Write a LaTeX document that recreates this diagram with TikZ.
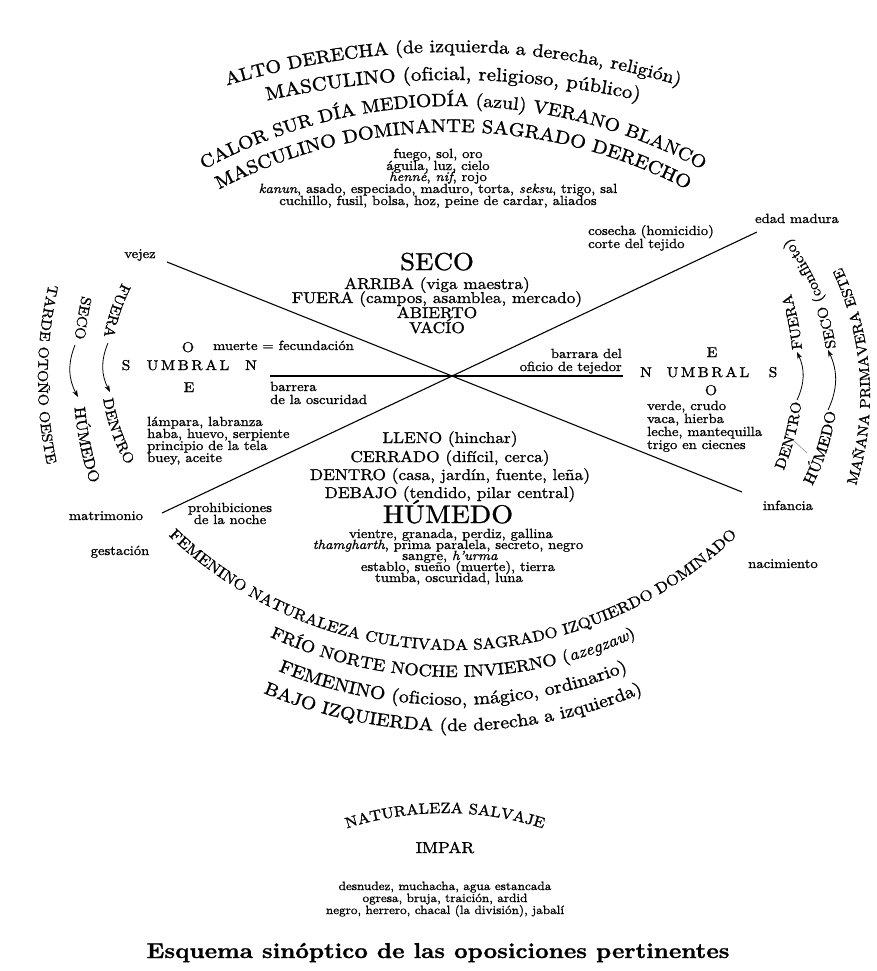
\documentclass[tikz,border=0pt]{standalone}
\usepackage{fontspec}
\setmainfont{lmroman10-regular.otf}[FakeStretch=1.1,FakeBold=1.1,ItalicFont=lmroman10-italic.otf,BoldFont=lmroman10-bold.otf,BoldItalicFont=lmroman10-bolditalic.otf]
\usetikzlibrary{decorations.text,arrows.meta}
\newcommand\myfs[1]{\fontsize{#1}{#1}\selectfont}
\newcommand\umbral{U\kern2.5pt M\kern2.5pt B\kern2.5pt R\kern2.5pt A\kern2.5pt L}
\tikzset{
  lbl/.style={inner sep=0pt, anchor=base},
  lbll/.style={inner sep=0pt, anchor=base west},
  lblr/.style={inner sep=0pt, anchor=base east},
  sm/.style={font=\myfs{13.3}},
  xs/.style={font=\myfs{12}},
  md/.style={font=\myfs{15.7}},
  ltr/.style={font=\myfs{14.2}},
  axisline/.style={line width=1.1pt},
  curvearrow/.style={-{Stealth[length=7pt,width=5pt]}, line width=0.8pt},
  arctext/.style={decorate, decoration={text along path, text align=center, text={#1}}}
}
\begin{document}
\begin{tikzpicture}[x=1pt,y=1pt]
\useasboundingbox (0,0) rectangle (877,-971);
\fill[white] (0,0) rectangle (877,-971);

% ---------- top arcs ----------
\path[arctext={|\myfs{18.1}|ALTO DERECHA (de izquierda a derecha, religión)}]
  (453,-832) ++(112:780) arc[start angle=112, end angle=68, radius=780];
\path[arctext={|\myfs{19.1}|MASCULINO (oficial, religioso, público)}]
  (453,-930) ++(108:850) arc[start angle=108, end angle=72, radius=850];
\path[arctext={|\myfs{18}|CALOR SUR DÍA MEDIODÍA (azul) VERANO BLANCO}]
  (453,-626) ++(130:520) arc[start angle=130, end angle=50, radius=520];
\path[arctext={|\myfs{18.5}|MASCULINO DOMINANTE SAGRADO DERECHO}]
  (453,-637) ++(130:505) arc[start angle=130, end angle=50, radius=505];

% ---------- top small block ----------
\node[lbl,sm] (f1) at (438,-158) {fuego, sol, oro};
\node[lbl,sm] (f2) at (438,-170) {águila, luz, cielo};
\node[lbl,sm] (f3) at (438,-181) {\textit{henné}, \textit{nif}, rojo};
\node[lbl,sm] (f4) at (438,-193) {\textit{kanun}, asado, especiado, maduro, torta, \textit{seksu}, trigo, sal};
\node[lbl,sm] (f5) at (438,-205) {cuchillo, fusil, bolsa, hoz, peine de cardar, aliados};

% ---------- axes ----------
\coordinate (hl) at (270,-376);
\coordinate (hr) at (623,-376);
\coordinate (d1a) at (167,-262);
\coordinate (d1b) at (742,-492);
\coordinate (d2a) at (162,-513);
\coordinate (d2b) at (757,-232);
\draw[axisline] (hl) -- (hr);
\draw[axisline] (d1a) -- (d1b);
\draw[axisline] (d2a) -- (d2b);

% ---------- centre top ----------
\node[lbl,font=\myfs{24.5}] (seco) at (437,-270) {SECO};
\node[lbl,md] (arriba) at (437,-289) {ARRIBA (viga maestra)};
\node[lbl,md] (fuera) at (437,-303) {FUERA (campos, asamblea, mercado)};
\node[lbl,md] (abierto) at (437,-318) {ABIERTO};
\node[lbl,md] (vacio) at (437,-333) {VACÍO};

% ---------- centre bottom ----------
\node[lbl,md] (lleno) at (450,-443) {LLENO (hinchar)};
\node[lbl,md] (cerrado) at (450,-462) {CERRADO (difícil, cerca)};
\node[lbl,md] (dentro) at (450,-480) {DENTRO (casa, jardín, fuente, leña)};
\node[lbl,md] (debajo) at (450,-498) {DEBAJO (tendido, pilar central)};
\node[lbl,font=\myfs{25.5}] (humedo) at (448,-523) {HÚMEDO};
\node[lbl,sm] (h1) at (451,-538) {vientre, granada, perdiz, gallina};
\node[lbl,sm] (h2) at (448,-549) {\textit{thamgharth}, prima paralela, secreto, negro};
\node[lbl,sm] (h3) at (450,-560) {sangre, \textit{h'urma}};
\node[lbl,sm] (h4) at (458,-571) {establo, sueño (muerte), tierra};
\node[lbl,sm] (h5) at (449,-582) {tumba, oscuridad, luna};

% ---------- left cluster ----------
\node[lbl,sm] (vejez) at (140,-258) {vejez};
\node[lbl,ltr] (lO) at (188,-352) {O};
\node[lbll,sm] (muerte) at (213,-350) {muerte = fecundación};
\node[lbl,ltr] (lS) at (126,-370) {S};
\node[lbl,ltr] (lU) at (188,-370) {\umbral};
\node[lbl,ltr] (lN) at (251,-370) {N};
\node[lbl,ltr] (lE) at (189,-392) {E};
\node[lbll,sm] (barr1) at (270,-391) {barrera};
\node[lbll,sm] (barr2) at (270,-404) {de la oscuridad};
\node[lbll,sm] (la1) at (147,-426) {lámpara, labranza};
\node[lbll,sm] (la2) at (147,-438) {haba, huevo, serpiente};
\node[lbll,sm] (la3) at (147,-450) {principio de la tela};
\node[lbll,sm] (la4) at (147,-462) {buey, aceite};
\node[lbl,sm] (matr) at (106,-520) {matrimonio};
\node[lbl,sm] (proh1) at (230,-512) {prohibiciones};
\node[lbl,sm] (proh2) at (230,-524) {de la noche};
\node[lbl,sm] (gest) at (120,-555) {gestación};

% ---------- right cluster ----------
\node[lbl,sm] (edad) at (797,-223) {edad madura};
\node[lbll,sm] (cos1) at (588,-235) {cosecha (homicidio)};
\node[lbll,sm] (cos2) at (588,-248) {corte del tejido};
\node[lblr,sm] (bar1) at (622,-358) {barrara del};
\node[lblr,sm] (bar2) at (622,-371) {oficio de tejedor};
\node[lbl,ltr] (rE) at (712,-357) {E};
\node[lbl,ltr] (rN) at (646,-377) {N};
\node[lbl,ltr] (rU) at (708,-377) {\umbral};
\node[lbl,ltr] (rS) at (773,-377) {S};
\node[lbl,ltr] (rO) at (711,-395) {O};
\node[lbll,sm] (ve1) at (647,-410) {verde, crudo};
\node[lbll,sm] (ve2) at (647,-423) {vaca, hierba};
\node[lbll,sm] (ve3) at (647,-436) {leche, mantequilla};
\node[lbll,sm] (ve4) at (647,-449) {trigo en ciecnes};
\node[lbl,sm] (inf) at (788,-510) {infancia};
\node[lbl,sm] (nac) at (783,-568) {nacimiento};

% ---------- left side arcs ----------
\path[arctext={|\myfs{14.3}|TARDE OTOÑO OESTE}]
  (453,-378) ++(139.5:415) arc[start angle=139.5, end angle=219.5, radius=415];
\path[arctext={|\myfs{14.5}|SECO}]
  (423,-375) ++(155.5:350) arc[start angle=155.5, end angle=185.5, radius=350];
\path[arctext={|\myfs{15.3}|HÚMEDO}]
  (423,-375) ++(176.7:350) arc[start angle=176.7, end angle=206.7, radius=350];
\path[arctext={|\myfs{14.5}|FUERA}]
  (291,-370) ++(136.3:190) arc[start angle=136.3, end angle=186.3, radius=190];
\path[arctext={|\myfs{14.5}|DENTRO}]
  (291,-370) ++(174.4:190) arc[start angle=174.4, end angle=224.4, radius=190];
\coordinate (lfa) at (108,-343);
\coordinate (lfb) at (110,-392);
\coordinate (lsa) at (75,-345);
\coordinate (lsb) at (78,-397);
\draw[curvearrow] (lfa) to[bend right=25] (lfb);
\draw[curvearrow] (lsa) to[bend right=25] (lsb);

% ---------- right side arcs ----------
\path[arctext={|\myfs{14.2}|MAÑANA PRIMAVERA ESTE}]
  (570,-395) ++(-26.2:300) arc[start angle=-26.2, end angle=33.8, radius=300];
\path[arctext={|\myfs{14.5}|SECO (conflicto)}]
  (608,-380) ++(-7:230) arc[start angle=-7, end angle=53, radius=230];
\path[arctext={|\myfs{15.3}|HÚMEDO}]
  (608,-380) ++(-47.7:230) arc[start angle=-47.7, end angle=12.3, radius=230];
\path[arctext={|\myfs{14.5}|FUERA}]
  (543,-372) ++(-8.7:260) arc[start angle=-8.7, end angle=31.3, radius=260];
\path[arctext={|\myfs{14.5}|DENTRO}]
  (543,-372) ++(-34.5:260) arc[start angle=-34.5, end angle=5.5, radius=260];
\coordinate (rfa) at (797,-400);
\coordinate (rfb) at (797,-352);
\coordinate (rsa) at (828,-410);
\coordinate (rsb) at (828,-350);
\draw[curvearrow] (rfa) to[bend right=25] (rfb);
\draw[curvearrow] (rsa) to[bend right=25] (rsb);
\coordinate (tla) at (793,-440);
\coordinate (tlb) at (807,-453);
\draw[gray, line width=0.5pt] (tla) -- (tlb);

% ---------- bottom arcs ----------
\path[arctext={|\myfs{15.3}|FEMENINO NATURALEZA CULTIVADA SAGRADO IZQUIERDO DOMINADO}]
  (453,-240) ++(210:410) arc[start angle=210, end angle=330, radius=410];
\path[arctext={|\myfs{16.7}|FRÍO NORTE NOCHE INVIERNO (|\myfs{16.7}\itshape|azegzaw|\myfs{16.7}\upshape|)}]
  (453,-240) ++(220:437) arc[start angle=220, end angle=320, radius=437];
\path[arctext={|\myfs{18}|FEMENINO (oficioso, mágico, ordinario)}]
  (453,-240) ++(220:465) arc[start angle=220, end angle=320, radius=465];
\path[arctext={|\myfs{17.9}|BAJO IZQUIERDA (de derecha a izquierda)}]
  (453,-240) ++(220:491) arc[start angle=220, end angle=320, radius=491];

% ---------- lower block ----------
\path[arctext={|\myfs{15}|NATURALEZA SALVAJE}]
  (445,-1133) ++(115:320) arc[start angle=115, end angle=65, radius=320];
\node[lbl,font=\myfs{15.8}] (impar) at (445,-853) {IMPAR};
\node[lbl,xs] (s1) at (445,-890) {desnudez, muchacha, agua estancada};
\node[lbl,xs] (s2) at (445,-902) {ogresa, bruja, traición, ardid};
\node[lbl,xs] (s3) at (445,-914) {negro, herrero, chacal (la división), jabalí};
\node[lbl,font=\myfs{21.5}\bfseries] (title) at (438,-958) {Esquema sinóptico de las oposiciones pertinentes};
\end{tikzpicture}
\end{document}
